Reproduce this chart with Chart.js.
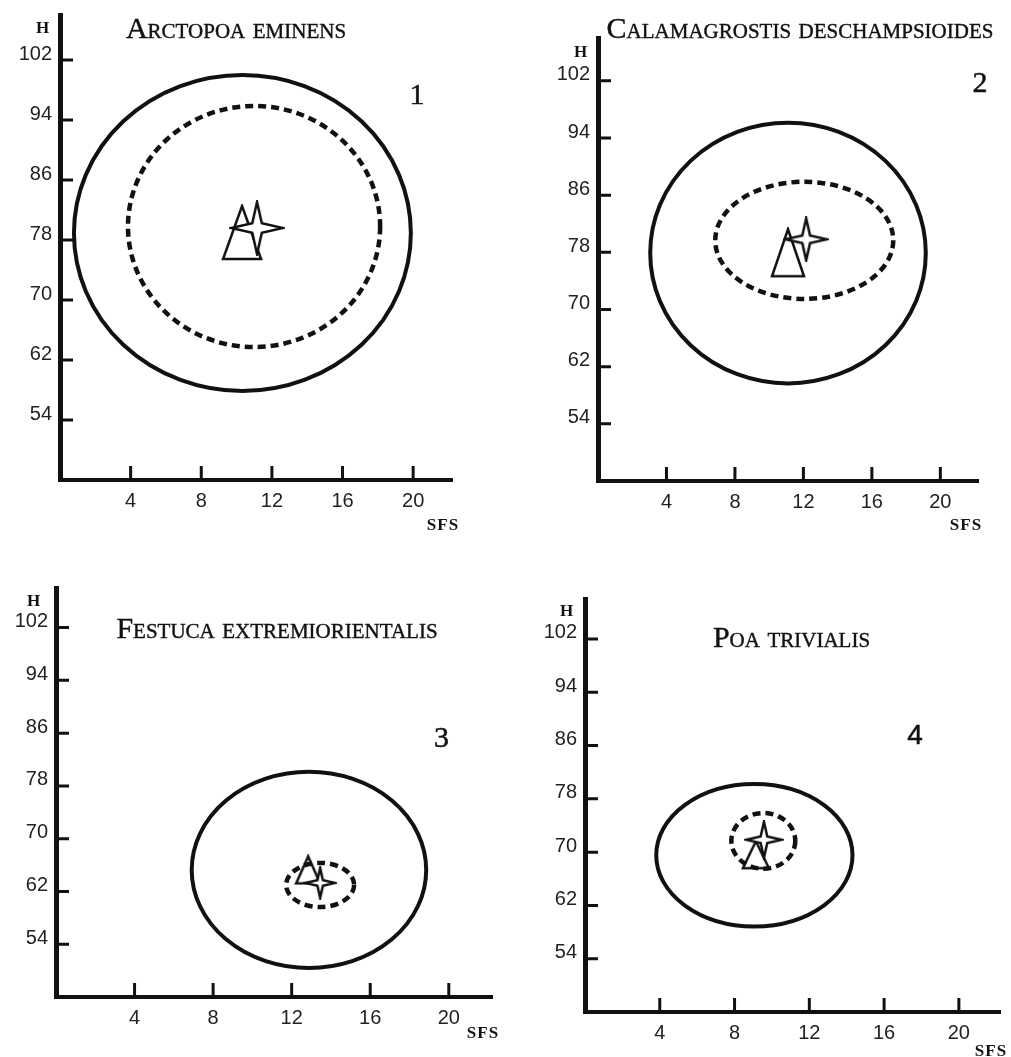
<!DOCTYPE html>
<html>
<head>
<meta charset="utf-8">
<script src="https://cdn.jsdelivr.net/npm/chart.js@4"></script>
<style>
  html, body { margin: 0; padding: 0; background: #fff; }
  #page { position: relative; width: 1011px; height: 1057px; overflow: hidden; }
  #page canvas { position: absolute; left: 0; top: 0; }
  .lbl { position: absolute; transform: translate(-50%, -50%); line-height: 1; white-space: nowrap; color: #111; }
  .title { font: 30px "Liberation Serif", serif; font-variant: small-caps; -webkit-text-stroke: 0.4px #111; }
  .axis-name { font: bold 17px "Liberation Serif", serif; letter-spacing: 1px; }
  .num { font: 30px "Liberation Serif", serif; -webkit-text-stroke: 0.5px #111; }
  .num.sans { font: 28px "Liberation Sans", sans-serif; }
</style>
</head>
<body>
<div id="page"></div>
<script>
// species shown in the four panels
const species = ["Arctopoa eminens", "Calamagrostis deschampsioides", "Festuca extremiorientalis", "Poa trivialis"];
const panelNumbers = ["1", "2", "3", "4"];
const xTicks = [4, 8, 12, 16, 20];
const yTicks = [54, 62, 70, 78, 86, 94, 102];

// solid ellipse: centre and half-axes (SFS, H)
const solidCx = [10.33, 11.1, 12.88, 9.06];
const solidCy = [78.93, 77.9, 65.27, 69.54];
const solidRx = [9.54, 8.05, 5.97, 5.25];
const solidRy = [21.07, 18.24, 14.87, 10.69];

// dashed ellipse
const dashedCx = [10.99, 12.05, 13.45, 9.54];
const dashedCy = [79.8, 79.68, 62.99, 71.69];
const dashedRx = [7.14, 5.2, 1.73, 1.71];
const dashedRy = [16.07, 8.2, 3.34, 4.18];

// triangle and star markers
const triangleX = [10.31, 11.1, 12.84, 9.14];
const triangleY = [79.0, 77.95, 65.27, 69.61];
const starX = [11.16, 12.16, 13.45, 9.57];
const starY = [79.6, 79.83, 63.3, 71.86];

// layout (page pixels) -- plot area of each panel
const plotBoxes = [
  { left: 60, top: 15, right: 452, bottom: 480 },
  { left: 598, top: 38, right: 978, bottom: 481 },
  { left: 56, top: 588, right: 492, bottom: 997 },
  { left: 585, top: 599, right: 1003, bottom: 1012 },
];
const markerSizes = [
  { tw: 38, th: 53, sr: 26 },
  { tw: 32, th: 47, sr: 21 },
  { tw: 24, th: 27, sr: 15 },
  { tw: 26, th: 27, sr: 18 },
];
const labelPos = [
  { title: [236, 28], num: [417, 94], h: [43, 27.5], sfs: [443, 525] },
  { title: [800, 28], num: [980, 81.5], h: [581, 52], sfs: [966, 525] },
  { title: [277, 628], num: [441.5, 736.5], h: [34, 601], sfs: [483, 1033] },
  { title: [791.5, 637.3], num: [915, 735], h: [567, 611], sfs: [991, 1051] },
];

const PAGE_W = 1011, PAGE_H = 1057;
const Y_W = 55, X_H = 40;
const INK = "#111";

// outline triangle used as point style
function triangleImage(w, h) {
  const c = document.createElement("canvas");
  c.width = w + 4; c.height = h + 4;
  const g = c.getContext("2d");
  g.strokeStyle = INK; g.lineWidth = 2.5;
  g.beginPath();
  g.moveTo(c.width / 2, 2);
  g.lineTo(c.width - 2, c.height - 2);
  g.lineTo(2, c.height - 2);
  g.closePath();
  g.stroke();
  return c;
}

// four-pointed star, white inside
function starImage(r) {
  const s = Math.ceil(2 * r + 4);
  const c = document.createElement("canvas");
  c.width = s; c.height = s;
  const g = c.getContext("2d");
  const m = s / 2, inner = r * 0.26;
  g.beginPath();
  for (let k = 0; k < 8; k++) {
    const a = -Math.PI / 2 + k * Math.PI / 4;
    const rr = k % 2 === 0 ? r : inner;
    const px = m + rr * Math.cos(a), py = m + rr * Math.sin(a);
    k === 0 ? g.moveTo(px, py) : g.lineTo(px, py);
  }
  g.closePath();
  g.fillStyle = "#fff"; g.fill();
  g.strokeStyle = INK; g.lineWidth = 2.5; g.stroke();
  return c;
}

// ellipses drawn through the chart scales
const ellipsePlugin = {
  id: "ellipses",
  beforeDatasetsDraw(chart, args, opts) {
    const { ctx, scales: { x, y } } = chart;
    opts.items.forEach((e) => {
      const cx = x.getPixelForValue(e.cx), cy = y.getPixelForValue(e.cy);
      const rx = Math.abs(x.getPixelForValue(e.cx + e.rx) - cx);
      const ry = Math.abs(y.getPixelForValue(e.cy + e.ry) - cy);
      ctx.save();
      ctx.strokeStyle = INK;
      ctx.lineWidth = e.width;
      ctx.setLineDash(e.dash);
      ctx.beginPath();
      ctx.ellipse(cx, cy, rx, ry, 0, 0, 2 * Math.PI);
      ctx.stroke();
      ctx.restore();
    });
  },
};

// tick marks pointing into the plot
const innerTicks = {
  id: "innerTicks",
  afterDraw(chart) {
    const { ctx, chartArea, scales: { x, y } } = chart;
    ctx.save();
    ctx.strokeStyle = INK;
    ctx.lineWidth = 3;
    ctx.beginPath();
    x.ticks.forEach((t) => {
      const px = x.getPixelForValue(t.value);
      ctx.moveTo(px, chartArea.bottom);
      ctx.lineTo(px, chartArea.bottom - 14);
    });
    y.ticks.forEach((t) => {
      const py = y.getPixelForValue(t.value);
      ctx.moveTo(chartArea.left, py);
      ctx.lineTo(chartArea.left + 13, py);
    });
    ctx.stroke();
    ctx.restore();
  },
};

const page = document.getElementById("page");

function addLabel(text, cls, pos) {
  const d = document.createElement("div");
  d.className = "lbl " + cls;
  d.textContent = text;
  d.style.left = pos[0] + "px";
  d.style.top = pos[1] + "px";
  page.appendChild(d);
}

function makePanel(i) {
  const canvas = document.createElement("canvas");
  canvas.width = PAGE_W; canvas.height = PAGE_H;
  page.appendChild(canvas);
  const box = plotBoxes[i];
  const size = markerSizes[i];

  new Chart(canvas, {
    type: "scatter",
    data: {
      datasets: [
        {
          data: [{ x: starX[i], y: starY[i] }],
          pointStyle: starImage(size.sr),
          pointRadius: 10,
        },
        {
          data: [{ x: triangleX[i], y: triangleY[i] }],
          pointStyle: triangleImage(size.tw, size.th),
          pointRadius: 10,
        },
      ],
    },
    options: {
      responsive: false,
      animation: false,
      events: [],
      layout: {
        padding: {
          left: box.left - Y_W,
          top: box.top,
          right: PAGE_W - box.right,
          bottom: PAGE_H - box.bottom - X_H,
        },
      },
      plugins: {
        legend: { display: false },
        tooltip: { enabled: false },
        ellipses: {
          items: [
            { cx: solidCx[i], cy: solidCy[i], rx: solidRx[i], ry: solidRy[i], width: 4, dash: [] },
            { cx: dashedCx[i], cy: dashedCy[i], rx: dashedRx[i], ry: dashedRy[i], width: 4.5, dash: [8, 5] },
          ],
        },
      },
      scales: {
        x: {
          type: "linear",
          min: 0,
          max: 22.2,
          afterBuildTicks: (s) => { s.ticks = xTicks.map((v) => ({ value: v })); },
          afterFit: (s) => { s.height = X_H; s.paddingLeft = 0; s.paddingRight = 0; },
          grid: { display: false, drawTicks: false },
          border: { display: true, color: INK, width: 4 },
          ticks: { color: "#222", padding: 9, font: { family: "Liberation Sans", size: 20 } },
        },
        y: {
          type: "linear",
          min: 46,
          max: 108,
          afterBuildTicks: (s) => { s.ticks = yTicks.map((v) => ({ value: v })); },
          afterFit: (s) => { s.width = Y_W; s.paddingTop = 0; s.paddingBottom = 0; },
          grid: { display: false, drawTicks: false },
          border: { display: true, color: INK, width: 5 },
          ticks: { color: "#222", padding: 8, labelOffset: -6, font: { family: "Liberation Sans", size: 20 } },
        },
      },
    },
    plugins: [ellipsePlugin, innerTicks],
  });

  const lp = labelPos[i];
  addLabel(species[i], "title", lp.title);
  addLabel(panelNumbers[i], i === 3 ? "num sans" : "num", lp.num);
  addLabel("H", "axis-name", lp.h);
  addLabel("SFS", "axis-name", lp.sfs);
}

[0, 1, 2, 3].forEach(makePanel);
</script>
</body>
</html>
